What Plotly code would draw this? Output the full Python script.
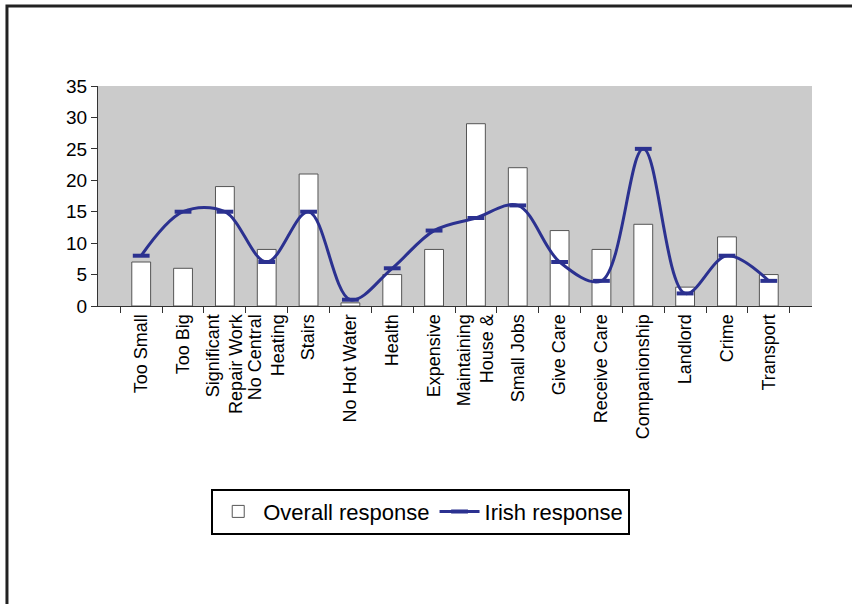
import plotly.graph_objects as go

categories = [
    "Too Small", "Too Big", "Significant<br>Repair Work", "No Central<br>Heating",
    "Stairs", "No Hot Water", "Health", "Expensive", "Maintaining<br>House &",
    "Small Jobs", "Give Care", "Receive Care", "Companionship", "Landlord",
    "Crime", "Transport",
]
overall_response = [7, 6, 19, 9, 21, 0.5, 5, 9, 29, 22, 12, 9, 13, 3, 11, 5]
irish_response = [8, 15, 15, 7, 15, 1, 6, 12, 14, 16, 7, 4, 25, 2, 8, 4]
y_ticks = [0, 5, 10, 15, 20, 25, 30, 35]

FONT = "Liberation Sans, Arial, sans-serif"
NAVY = "#2b3190"

fig = go.Figure()
fig.add_trace(go.Bar(
    x=categories, y=overall_response, name="Overall response",
    marker=dict(color="white", line=dict(color="#555555", width=1)),
))
fig.add_trace(go.Scatter(
    x=categories, y=irish_response, name="Irish response",
    mode="lines+markers",
    line=dict(color=NAVY, width=3, shape="spline", smoothing=1.0),
    marker=dict(symbol="line-ew", size=12, line=dict(color=NAVY, width=4)),
))

fig.update_layout(
    width=852, height=604, autosize=False,
    margin=dict(l=98, r=40, t=86, b=298),
    paper_bgcolor="white", plot_bgcolor="#cbcbcb",
    font=dict(family=FONT, color="black", size=18),
    bargap=0.55,
    showlegend=True,
    legend=dict(
        orientation="h", x=0.452, xanchor="center", y=-0.83, yanchor="top",
        bordercolor="black", borderwidth=2, bgcolor="white",
        font=dict(size=22, family=FONT), itemwidth=40,
    ),
    xaxis=dict(
        type="category", tickangle=-90, tickson="boundaries", ticks="outside",
        ticklen=6, tickcolor="#333333", showline=True, linecolor="#333333",
        linewidth=1, showgrid=False, automargin=False,
        tickfont=dict(size=18, family=FONT),
    ),
    yaxis=dict(
        range=[0, 35], tickvals=y_ticks, ticks="outside", ticklen=6,
        tickcolor="#333333", showline=True, linecolor="#333333", linewidth=1,
        showgrid=False, zeroline=False, automargin=False,
        tickfont=dict(size=19, family=FONT),
    ),
    shapes=[dict(
        type="rect", xref="paper", yref="paper",
        x0=-0.1275, x1=1.1, y0=-1.5, y1=1.3636,
        line=dict(color="#222222", width=3), fillcolor="rgba(0,0,0,0)",
        layer="above",
    )],
)

fig.write_html(
    "out.html",
    config={"displayModeBar": False},
    post_script="document.body.style.margin='0px';document.body.style.overflow='hidden';",
)
